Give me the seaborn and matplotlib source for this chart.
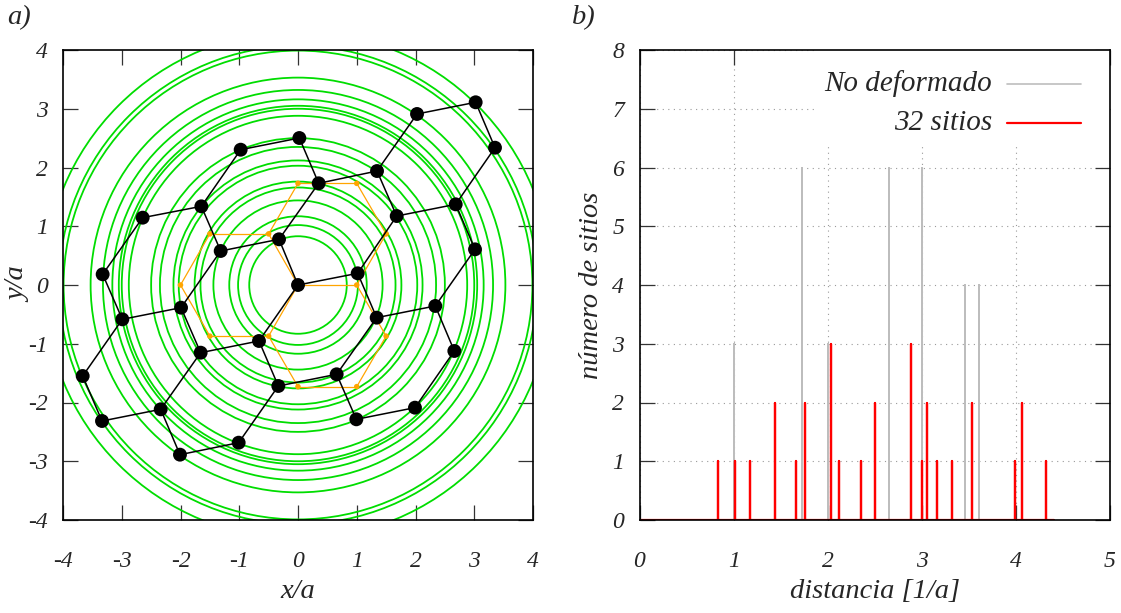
import numpy as np
import matplotlib
matplotlib.use("Agg")
import matplotlib.pyplot as plt
from matplotlib.patches import Circle, Rectangle
import seaborn as sns

# ---------------- data: panel a) ----------------
# deformed 32-site flake (positions in units of a)
node_x = [0.0, 1.016, -0.323, -0.664, 0.352, 1.345, 1.680, -1.316, -1.645, -0.976,
          0.023, 2.026, 3.024, 3.353, 2.684, 3.013, 2.337, 1.339, 2.661, 1.991,
          0.993, 0.658, -0.335, -1.010, -2.009, -2.337, -3.336, -3.665, -2.990, -1.991,
          -1.657, -3.325, -2.644]
node_y = [0.0, 0.199, 0.778, -0.953, 1.731, 1.940, 1.174, 0.579, 1.339, 2.303,
          2.502, 2.911, 3.110, 2.337, 1.373, 0.607, -0.357, -0.556, -1.123, -2.088,
          -2.286, -1.520, -1.719, -2.684, -2.888, -2.116, -2.315, -1.549, -0.584, -0.386,
          -1.152, 0.182, 1.146]
bond_i = [0, 0, 0, 2, 2, 1, 1, 3, 3, 4, 4, 5, 5, 6, 10, 9, 8, 8, 7, 32, 31, 28, 28,
          29, 30, 27, 26, 25, 24, 23, 22, 21, 21, 20, 19, 18, 16, 16, 15, 14, 13, 12]
bond_j = [1, 2, 3, 7, 4, 6, 17, 30, 22, 5, 10, 11, 6, 14, 9, 8, 7, 32, 29, 31, 28, 29, 27,
          30, 25, 26, 25, 24, 23, 22, 21, 20, 17, 19, 18, 16, 17, 15, 14, 13, 12, 11]

# undeformed reference hexagons
ref_x = [0.0, 1.0, 1.5, 1.0, 0.0, -0.5, -1.5, -2.0, -1.5, -0.5, 0.0, 1.0, 1.5]
ref_y = [0.0, 0.0, 0.87, 1.73, 1.73, 0.87, 0.87, 0.0, -0.87, -0.87, -1.73, -1.73, -0.87]
ref_bond_i = [0, 1, 2, 3, 4, 5, 5, 6, 7, 8, 9, 9, 10, 11, 12]
ref_bond_j = [1, 2, 3, 4, 5, 0, 6, 7, 8, 9, 0, 10, 11, 12, 1]

# ---------------- data: panel b) ----------------
dist_deformed = [0.83, 1.02, 1.17, 1.44, 1.66, 1.76, 2.03, 2.12, 2.35, 2.50,
                 2.88, 3.00, 3.05, 3.16, 3.32, 3.53, 3.99, 4.07, 4.32]
count_deformed = [1, 1, 1, 2, 1, 2, 3, 1, 1, 2, 3, 1, 2, 1, 1, 2, 1, 2, 1]
dist_ideal = [1.00, 1.73, 2.00, 2.65, 3.00, 3.46, 3.61]
count_ideal = [3, 6, 3, 6, 6, 4, 4]
hist_range = [0.0, 4.4]

left_ticks = list(range(-4, 5))
b_xticks = list(range(0, 6))
b_yticks = list(range(0, 9))

GREEN = "#00dd00"
ORANGE = "#ffa500"
GRAY = "#bdbdbd"
RED = "#ff0000"

sns.set_style("ticks")
plt.rcParams.update({
    "font.family": ["Liberation Serif", "DejaVu Serif"],
    "font.style": "italic",
    "axes.unicode_minus": False,
    "axes.linewidth": 1.2,
    "axes.edgecolor": "black",
})

TICK_FS = 17
LABEL_FS = 20.5
LEGEND_FS = 21

fig = plt.figure(figsize=(11.21, 6.13), dpi=100)
W, H = 1121.0, 613.0
ax1 = fig.add_axes([63 / W, 93 / H, 470 / W, 470 / H])
ax2 = fig.add_axes([639.5 / W, 93 / H, 470.5 / W, 470 / H])

# ---- panel a
for r in dist_deformed:
    ax1.add_patch(Circle((0, 0), r, fill=False, ec=GREEN, lw=1.3, zorder=1))
for i, j in zip(ref_bond_i, ref_bond_j):
    ax1.plot([ref_x[i], ref_x[j]], [ref_y[i], ref_y[j]], color=ORANGE, lw=0.9, zorder=2)
sns.scatterplot(x=ref_x, y=ref_y, color=ORANGE, s=16, edgecolor="none", ax=ax1, zorder=3)
for i, j in zip(bond_i, bond_j):
    ax1.plot([node_x[i], node_x[j]], [node_y[i], node_y[j]], color="black", lw=1.1, zorder=4)
sns.scatterplot(x=node_x, y=node_y, color="black", s=100, edgecolor="none", ax=ax1, zorder=5)

ax1.set_xlim(-4, 4)
ax1.set_ylim(-4, 4)
ax1.set_xticks(left_ticks)
ax1.set_yticks(left_ticks)
ax1.set_xticklabels([str(v) for v in left_ticks])
ax1.set_yticklabels([str(v) for v in left_ticks])
ax1.set_xlabel("x/a", fontsize=LABEL_FS, labelpad=5)
ax1.set_ylabel("y/a", fontsize=LABEL_FS)
ax1.yaxis.set_label_coords(-0.068, 0.5)

# ---- panel b
def spike_path(xs, ns):
    px, py = [hist_range[0]], [0]
    for x, n in sorted(zip(xs, ns)):
        px += [x, x, x]
        py += [0, n, 0]
    px.append(hist_range[1])
    py.append(0)
    return px, py

gx, gy = spike_path(dist_ideal, count_ideal)
rx, ry = spike_path(dist_deformed, count_deformed)
sns.lineplot(x=gx, y=gy, sort=False, estimator=None, color=GRAY, lw=1.2, ax=ax2, zorder=3)
sns.lineplot(x=rx, y=ry, sort=False, estimator=None, color=RED, lw=1.6, ax=ax2, zorder=4)

ax2.set_xlim(0, 5)
ax2.set_ylim(0, 8)
ax2.set_xticks(b_xticks)
ax2.set_yticks(b_yticks)
ax2.set_xticklabels([str(v) for v in b_xticks])
ax2.set_yticklabels([str(v) for v in b_yticks])
ax2.set_axisbelow(True)
ax2.grid(True, linestyle=(0, (1, 4)), color="#9a9a9a", lw=0.8)
ax2.set_xlabel("distancia [1/a]", fontsize=LABEL_FS, labelpad=5)
ax2.set_ylabel("número de sitios", fontsize=LABEL_FS)
ax2.yaxis.set_label_coords(-0.076, 0.5)

# legend (gnuplot style: right-aligned text, sample on the right)
ax2.add_patch(Rectangle((0.373, 0.802), 0.627, 0.198, transform=ax2.transAxes,
                        fc="white", ec="none", zorder=1.5))
leg_rows = [("No deformado", GRAY, 1.2, 0.928), ("32 sitios", RED, 1.6, 0.845)]
for lab, col, lw, yy in leg_rows:
    ax2.text(0.749, yy, lab, ha="right", va="center", fontsize=LEGEND_FS,
             transform=ax2.transAxes, zorder=6)
    ax2.plot([0.781, 0.938], [yy, yy], color=col, lw=lw, transform=ax2.transAxes, zorder=6)

for ax in (ax1, ax2):
    ax.tick_params(direction="in", length=11, width=0.9, color="#333333",
                   top=True, right=True, labelsize=TICK_FS)
    ax.tick_params(axis="x", pad=22)
    ax.tick_params(axis="y", pad=11)
    for sp in ax.spines.values():
        sp.set_visible(True)
        sp.set_linewidth(1.2)
        sp.set_zorder(10)

fig.text(7 / W, 1 - 5 / H, "a)", fontsize=LABEL_FS, ha="left", va="top")
fig.text(572 / W, 1 - 5 / H, "b)", fontsize=LABEL_FS, ha="left", va="top")

fig.savefig("out.png", dpi=100)
